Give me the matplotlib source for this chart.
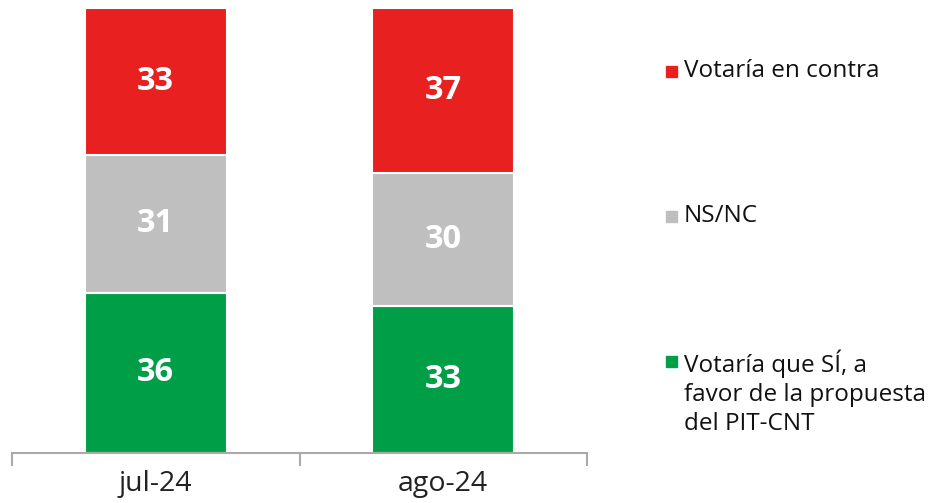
import matplotlib
matplotlib.use("Agg")
import matplotlib.pyplot as plt
from matplotlib.patches import Rectangle

categories = ["jul-24", "ago-24"]
series_names = ["Votaría que SÍ, a\nfavor de la propuesta\ndel PIT-CNT", "NS/NC", "Votaría en contra"]
si_vals = [36, 33]
nsnc_vals = [31, 30]
contra_vals = [33, 37]
colors = ["#009E46", "#BFBFBF", "#E82020"]

plt.rcParams['font.family'] = ['Open Sans', 'DejaVu Sans']

fig = plt.figure(figsize=(9.42, 5.03), dpi=100)
ax = fig.add_axes([12/942, 50/503, 575/942, 445/503])

x = list(range(len(categories)))
bottom = [0]*len(categories)
for vals, col in zip([si_vals, nsnc_vals, contra_vals], colors):
    ax.bar(x, vals, bottom=bottom, width=0.495, color=col, edgecolor="white", linewidth=1.5)
    for xi, v, b in zip(x, vals, bottom):
        ax.text(xi, b + v/2, f"{v}", ha="center", va="center", color="white",
                fontsize=23.5, fontweight="bold")
    bottom = [b + v for b, v in zip(bottom, vals)]

ax.set_xlim(-0.5, 1.5)
ax.set_ylim(0, 100)
for s in ["top", "right", "left"]:
    ax.spines[s].set_visible(False)
ax.spines["bottom"].set_color("#AAAAAA")
ax.spines["bottom"].set_linewidth(1.5)
ax.set_yticks([])
ax.set_xticks([-0.5, 0.5, 1.5])
ax.set_xticklabels([])
ax.set_xticks(x, minor=True)
ax.set_xticklabels(categories, minor=True, fontsize=20.5, color="#222222")
ax.tick_params(axis="x", which="major", length=9, width=1.5, color="#AAAAAA")
ax.tick_params(axis="x", which="minor", length=0, pad=12)

# legend
leg_y = [361, 216, 71]
for name, col, yy in zip(series_names, colors, leg_y):
    fig.patches.append(Rectangle((666/942, 1 - (yy + 6)/503), 11/942, 11/503,
                                 transform=fig.transFigure, color=col))
    fig.text(684/942, 1 - (yy - 12)/503, name, ha="left", va="top",
             fontsize=17.5, color="#111111", linespacing=1.3)

fig.savefig("out.png", dpi=100)
